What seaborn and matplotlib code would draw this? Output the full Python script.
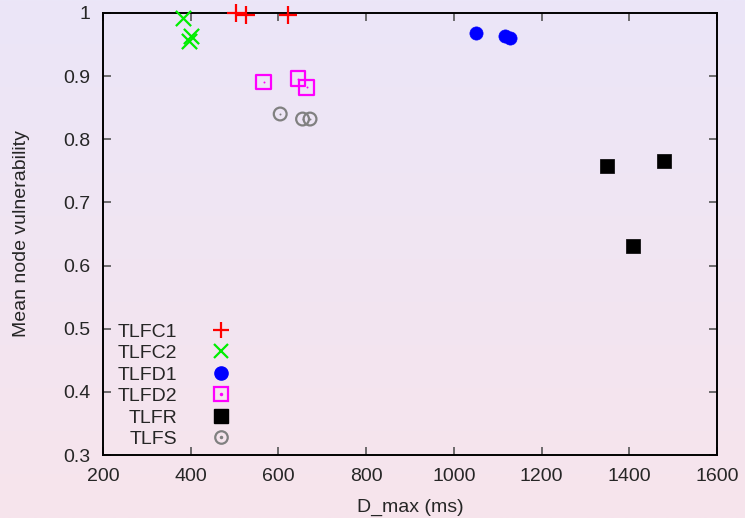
import numpy as np
import matplotlib
matplotlib.use("Agg")
import matplotlib.pyplot as plt
from matplotlib.lines import Line2D
from matplotlib.ticker import FormatStrFormatter
import seaborn as sns

# values
tlfc1_x = [503, 526, 621]
tlfc1_y = [1.0, 0.996, 0.996]
tlfc2_x = [383, 400, 397]
tlfc2_y = [0.992, 0.963, 0.955]
tlfd1_x = [1050, 1117, 1129]
tlfd1_y = [0.969, 0.963, 0.961]
tlfd2_x = [566, 645, 664]
tlfd2_y = [0.891, 0.896, 0.882]
tlfr_x = [1349, 1479, 1408]
tlfr_y = [0.757, 0.766, 0.631]
tlfs_x = [604, 655, 672]
tlfs_y = [0.840, 0.832, 0.832]

labels = ["TLFC1", "TLFC2", "TLFD1", "TLFD2", "TLFR", "TLFS"]
x_ticks = [200, 400, 600, 800, 1000, 1200, 1400, 1600]
y_ticks = [0.3, 0.4, 0.5, 0.6, 0.7, 0.8, 0.9, 1.0]

sns.set_style("ticks")
plt.rcParams['font.family'] = ['Liberation Sans', 'DejaVu Sans']
fs = 14
plt.rcParams['font.size'] = fs

fig = plt.figure(figsize=(7.45, 5.18), dpi=100)

# gradient background (lavender at top to pink at bottom)
bg = fig.add_axes([0, 0, 1, 1], zorder=-10)
top = np.array([235, 230, 248]) / 255
bot = np.array([247, 228, 236]) / 255
t = np.linspace(0, 1, 256)[:, None]
grad = top[None, :] * (1 - t) + bot[None, :] * t
bg.imshow(grad[:, None, :], aspect='auto', extent=[0, 1, 0, 1])
bg.axis('off')

ax = fig.add_axes([0.1383, 0.1216, 0.8241, 0.8534])
ax.set_facecolor('none')

sns.scatterplot(x=tlfc1_x, y=tlfc1_y, marker='+', color='#ff0000', s=160,
                linewidth=1.6, ax=ax, clip_on=False, zorder=5)
sns.scatterplot(x=tlfc2_x, y=tlfc2_y, marker='x', color='#00ee00', s=120,
                linewidth=1.6, ax=ax, clip_on=False, zorder=5)
sns.scatterplot(x=tlfd1_x, y=tlfd1_y, marker='o', color='#0000ff', s=90,
                edgecolor='#0000ff', linewidth=0.5, ax=ax, zorder=5)
sns.scatterplot(x=tlfd2_x, y=tlfd2_y, marker='s', facecolor='none',
                edgecolor='#ff00ff', s=110, linewidth=1.6, ax=ax, zorder=5)
sns.scatterplot(x=tlfd2_x, y=tlfd2_y, marker='.', color='#ff00ff', s=8,
                linewidth=0, ax=ax, zorder=6)
sns.scatterplot(x=tlfr_x, y=tlfr_y, marker='s', color='black', s=110,
                edgecolor='black', linewidth=0.5, ax=ax, zorder=5)
sns.scatterplot(x=tlfs_x, y=tlfs_y, marker='o', facecolor='none',
                edgecolor='#808080', s=85, linewidth=1.6, ax=ax, zorder=5)
sns.scatterplot(x=tlfs_x, y=tlfs_y, marker='.', color='#808080', s=8,
                linewidth=0, ax=ax, zorder=6)

ax.set_xlim(200, 1600)
ax.set_ylim(0.3, 1.0)
ax.set_xticks(x_ticks)
ax.set_yticks(y_ticks)
ax.yaxis.set_major_formatter(FormatStrFormatter('%g'))
ax.tick_params(direction='in', length=6, width=1.2, color='#555555',
               top=True, right=True, labelsize=fs, pad=9)
for sp in ax.spines.values():
    sp.set_linewidth(1.4)
    sp.set_color('black')
    sp.set_visible(True)

ax.set_xlabel("D_max (ms)", fontsize=fs, labelpad=10)
ax.set_ylabel("Mean node vulnerability", fontsize=fs, labelpad=24)

# gnuplot-like key: labels right-aligned, symbol on the right
dot_m = Line2D([], [], marker='.', linestyle='none', color='#ff00ff', markersize=3)
dot_g = Line2D([], [], marker='.', linestyle='none', color='#808080', markersize=3)
handles = [
    Line2D([], [], marker='+', linestyle='none', color='#ff0000', markersize=12, markeredgewidth=1.6),
    Line2D([], [], marker='x', linestyle='none', color='#00ee00', markersize=10, markeredgewidth=1.6),
    Line2D([], [], marker='o', linestyle='none', color='#0000ff', markersize=9.5),
    (Line2D([], [], marker='s', linestyle='none', markerfacecolor='none',
            markeredgecolor='#ff00ff', markersize=10, markeredgewidth=1.6), dot_m),
    Line2D([], [], marker='s', linestyle='none', color='black', markersize=10.5),
    (Line2D([], [], marker='o', linestyle='none', markerfacecolor='none',
            markeredgecolor='#808080', markersize=9, markeredgewidth=1.6), dot_g),
]
ax.legend(handles, labels, loc='lower left', bbox_to_anchor=(0.013, 0.0),
          markerfirst=False, frameon=False, fontsize=fs, handlelength=1.2,
          handletextpad=1.65, labelspacing=0.2, borderaxespad=0.1,
          borderpad=0.25)

fig.savefig("out.png", dpi=100)
